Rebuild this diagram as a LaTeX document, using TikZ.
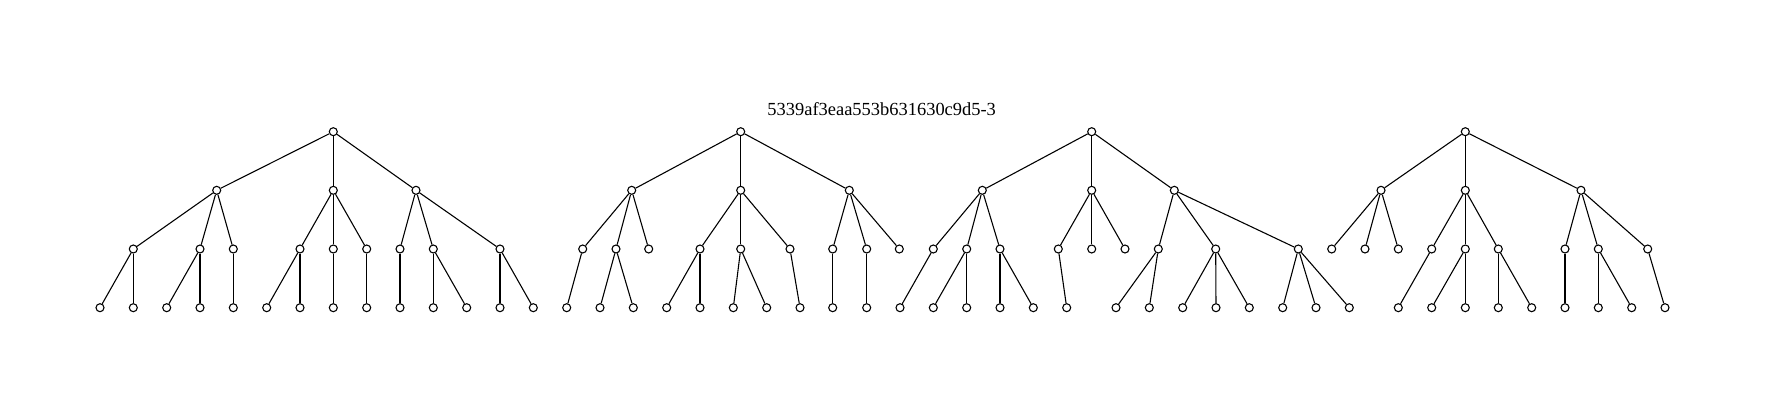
\documentclass[tikz,border=0pt]{standalone}
\usepackage{fontspec}
\setmainfont{Liberation Serif}

\begin{document}
\begin{tikzpicture}[x=0.02cm,y=-0.02cm,line width=0.62pt,
		tree node/.style={circle,draw,fill=white,inner sep=0pt,minimum size=0.16cm},
		title node/.style={anchor=base,font=\fontsize{10.5}{12}\selectfont}]
		\useasboundingbox (0,0) rectangle (1765,409);
		
		\node[title node] (title) at (881.7,115.7) {5339af3eaa553b631630c9d5-3};
		
		% roots
		\foreach \n/\x in {A/333.3,B/740.7,C/1091.7,D/1465.3}
		\node[tree node] (\n) at (\x,131.7) {};
		
		% second level
		\foreach \n/\p/\x in {A1/A/216.7,A2/A/333.3,A3/A/416,
			B1/B/631.7,B2/B/740.7,B3/B/849.3,
			C1/C/982.3,C2/C/1091.7,C3/C/1174.3,
			D1/D/1381,D2/D/1465.3,D3/D/1581}
		{\node[tree node] (\n) at (\x,190.3) {};
		 \path (\p) edge (\n);}
		
		% third level
		\foreach \n/\p/\x in {A11/A1/133.3,A12/A1/200,A13/A1/233.3,
			A21/A2/300,A22/A2/333.3,A23/A2/366.7,
			A31/A3/400,A32/A3/433.3,A33/A3/500,
			B11/B1/582.7,B12/B1/616,B13/B1/648.7,
			B21/B2/700,B22/B2/740.7,B23/B2/790,
			B31/B3/832.7,B32/B3/866.7,B33/B3/899.3,
			C11/C1/933.3,C12/C1/966.7,C13/C1/1000,
			C21/C2/1058.3,C22/C2/1091.7,C23/C2/1125,
			C31/C3/1158.3,C32/C3/1215.7,C33/C3/1298.3,
			D11/D1/1331.7,D12/D1/1365,D13/D1/1398.3,
			D21/D2/1431.7,D22/D2/1465.3,D23/D2/1498.3,
			D31/D3/1565,D32/D3/1598.3,D33/D3/1647.7}
		{\node[tree node] (\n) at (\x,249) {};
		 \path (\p) edge (\n);}
		
		% leaves
		\foreach \n/\p/\x in {A111/A11/100,A112/A11/133.3,A121/A12/166.7,A122/A12/200,
			A131/A13/233.3,A211/A21/266.7,A212/A21/300,A221/A22/333.3,
			A231/A23/366.7,A311/A31/400,A321/A32/433.3,A322/A32/466.7,
			A331/A33/500,A332/A33/533.3,
			B111/B11/566.7,B121/B12/600,B122/B12/633.3,B211/B21/666.7,
			B212/B21/700,B221/B22/733.3,B222/B22/766.7,B231/B23/800,
			B311/B31/832.7,B321/B32/866.7,
			C111/C11/900,C121/C12/933.3,C122/C12/966.7,C131/C13/1000,
			C132/C13/1033.3,C211/C21/1066.7,C311/C31/1116,C312/C31/1149.3,
			C321/C32/1182.7,C322/C32/1216,C323/C32/1249.3,
			C331/C33/1282.7,C332/C33/1316,C333/C33/1349.3,
			D211/D21/1398.3,D221/D22/1431.7,D222/D22/1465.3,D231/D23/1498.3,
			D232/D23/1531.7,D311/D31/1565,D321/D32/1598.3,D322/D32/1631.7,
			D331/D33/1665}
		{\node[tree node] (\n) at (\x,307.7) {};
		 \path (\p) edge (\n);}
\end{tikzpicture}
\end{document}
